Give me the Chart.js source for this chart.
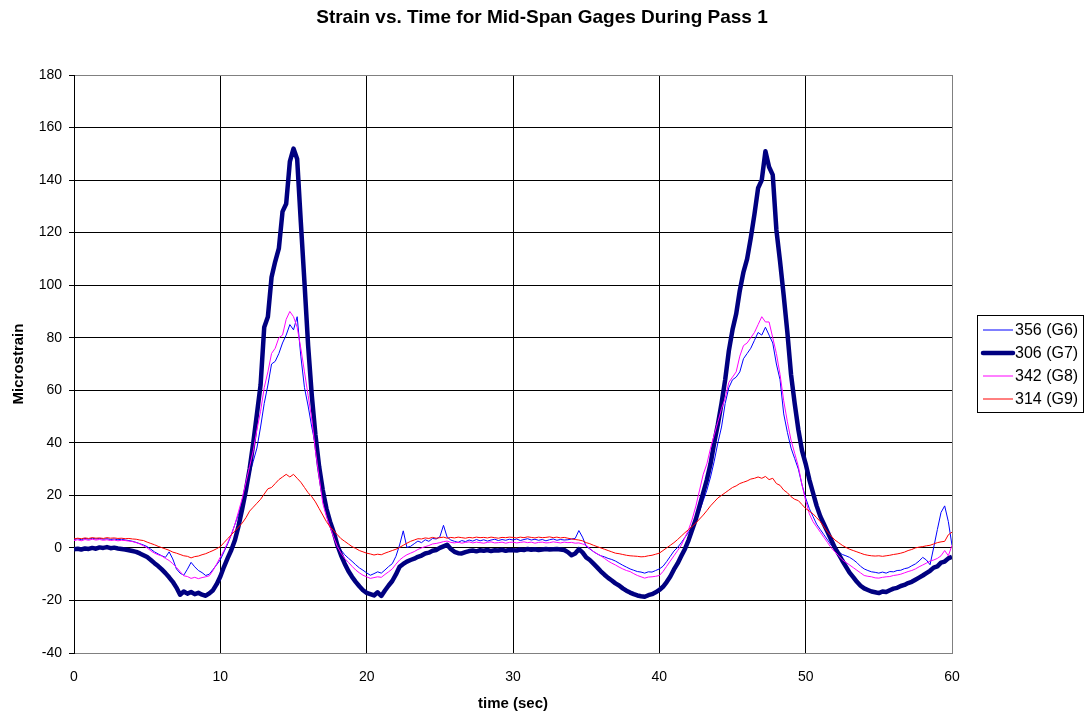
<!DOCTYPE html>
<html>
<head>
<meta charset="utf-8">
<title>Strain vs. Time</title>
<script src="https://cdn.jsdelivr.net/npm/chart.js@4.4.1/dist/chart.umd.min.js"></script>
<style>
  html, body { margin: 0; padding: 0; background: #fff; }
  #wrap { width: 1084px; height: 715px; position: relative; }
</style>
</head>
<body>
<div id="wrap"><canvas id="strainChart"></canvas></div>
<script>
// ===== Dados (amostras a cada 0.25 s, de 0 a 60 s)
const SAMPLE_STEP = 0.25;
const chartTitle = 'Strain vs. Time for Mid-Span Gages During Pass 1';
const xTicks = [0, 10, 20, 30, 40, 50, 60];
const yTicks = [-40, -20, 0, 20, 40, 60, 80, 100, 120, 140, 160, 180];
const seriesNames = ['356 (G6)', '306 (G7)', '342 (G8)', '314 (G9)'];

const g6 = [
  3.2,3.5,3.1,3.6,3.3,3.7,3.4,3.6,3.3,3.5,3.2,3.4,3.1,3.3,3,2.8,2.5,2.1,1.6,1.1,
  0.5,-0.5,-1.5,-2.3,-3,-3.6,-1.5,-4.2,-8,-9.6,-10.4,-8.1,-5.5,-7.2,-8.6,-9.4,-10.5,-10,-8.2,-6.4,
  -4.5,-1.5,1.5,5,9,13,18,23,28,33,38,46,55,62,70,71,74,78,81,85,
  83,88,73,61,54,46,39,29,19,14,9,5,1.5,-0.8,-2.6,-3.9,-5.1,-6.4,-7.6,-8.5,
  -9.5,-10.4,-9.8,-9.1,-9.6,-8.4,-7.1,-6,-3.2,1.1,6.5,0.2,0.6,1.6,2.6,2,3.1,2.5,3.6,3.4,
  4.2,8.6,4.1,3,2.5,2.1,2.8,2.4,3,2.6,3.2,2.7,3.1,2.6,3,3.3,2.8,3.2,2.9,3.3,
  3,3.4,2.8,3.2,3.5,3,3.3,2.9,3.2,2.7,3.1,3.4,2.9,3.2,3,3.1,3.4,3.6,6.6,4.1,
  0.6,-0.4,-1.4,-2.3,-3,-3.4,-4,-4.4,-5,-5.8,-6.6,-7.3,-8,-8.5,-9,-9.2,-9.6,-9.1,-9.2,-8.6,
  -8,-7,-5.2,-3.2,-1.2,0.2,2,4,6,8.5,11,14,18,22,27,33,40,46,55,61,
  64,65,67,72,74,76,79,82,81,84,81,78,70,64,51,44,38,34,30,24,
  19,15,12,9,7,5,3,1,-0.5,-1.5,-2.5,-3,-3.6,-4.5,-5.6,-7,-8,-8.6,-9.1,-9.3,
  -9.6,-9.2,-9.6,-9,-9.1,-8.6,-8.5,-7.9,-7.6,-6.8,-6.1,-5,-3.6,-4.6,-6.4,0.2,7,13.5,16,10,
  1
];

const g7 = [
  -0.5,-0.3,-0.6,-0.2,-0.4,0,-0.3,0.2,0,0.3,-0.1,0.1,-0.2,-0.4,-0.6,-0.9,-1.2,-1.5,-2.1,-2.8,
  -3.5,-4.6,-5.8,-6.9,-8.2,-9.6,-11.2,-12.9,-15.1,-17.8,-16.6,-17.4,-16.8,-17.6,-17.1,-17.8,-18.2,-17.3,-16.1,-13.8,
  -10.9,-7.2,-3.9,-0.8,3,8.5,15,22,30,40,51,62,84,88,103,109,114,128,131,147,
  152,148,124,101,77,58,43,31,22,15,10,6,1,-2.8,-6,-8.8,-11,-12.9,-14.6,-16.1,
  -17.1,-17.6,-18.1,-16.9,-18.3,-16.2,-14.3,-12.6,-10.1,-7.2,-6.1,-5.2,-4.6,-4.1,-3.4,-2.9,-2.1,-1.8,-1.1,-0.8,
  0,0.6,1.2,-0.4,-1.5,-2,-2.1,-1.6,-1.2,-1,-1.3,-0.9,-1.1,-0.8,-1.2,-0.9,-1,-0.7,-1.1,-0.8,
  -0.9,-1,-0.6,-0.8,-0.4,-0.7,-0.5,-0.8,-0.6,-0.4,-0.6,-0.5,-0.4,-0.6,-0.8,-1.6,-2.8,-2.1,-0.5,-1.7,
  -3.6,-4.6,-6,-7.4,-8.9,-10.2,-11.4,-12.4,-13.5,-14.3,-15.4,-16.3,-17,-17.6,-18.1,-18.4,-18.6,-18,-17.6,-16.9,
  -16,-14.8,-13,-10.9,-8.2,-5.9,-3.1,-0.4,3,7,11,16,21,26,32,40,47,55,64,75,
  83,89,98,105,110,118,127,137,140,151,145,142,121,109,96,82,66,55,45,37,
  32,26,21,16,12,9,6,3,0,-2.3,-4.8,-7.1,-9.4,-11.1,-12.9,-14.4,-15.4,-16,-16.6,-16.9,
  -17.2,-16.6,-16.8,-16.1,-15.5,-15.2,-14.5,-14.1,-13.4,-12.9,-12.1,-11.3,-10.5,-9.6,-8.7,-7.5,-7,-5.6,-5.2,-4,
  -3.4
];

const g8 = [
  2.8,3.1,2.7,3.2,2.9,3.3,3,3.2,2.9,3.1,2.8,3,2.7,2.9,2.8,2.6,2.4,2,1.5,0.8,
  0,-1.1,-2,-2.6,-3.1,-4,-4.8,-6,-7.4,-9,-10.6,-10.9,-11.6,-11.2,-11.7,-11.3,-11,-10.6,-8.6,-6.1,
  -3.5,-1,2,5,9,14,19,25,31,37,45,52,61,67,74,76,80,81,87,90,
  88,84,76,67,58,49,37,27,17,12,8,4,0.5,-2,-4,-5.5,-7,-8.4,-9.5,-10.4,
  -11,-11.6,-11.3,-11,-11.2,-10.1,-9.1,-8,-6.2,-4.6,-3.5,-2.6,-2,-1.4,-0.6,0,0.5,0.9,1.5,1.7,
  2,2.4,2.6,2.1,1.9,2.2,1.8,2.1,2.3,1.9,2.2,2,1.8,2.1,2.3,1.9,2,2.2,1.8,2.1,
  2.2,1.9,2.1,2.3,2,2.2,1.8,2.1,2.2,1.9,2,2.3,2.1,1.9,2.2,2,2.1,1.8,1.9,1.5,
  1,-0.2,-1.4,-2.2,-3,-4,-5,-5.8,-6.5,-7.3,-8,-8.6,-9,-9.8,-10.5,-11,-11.5,-11.1,-11,-10.8,
  -10.5,-9,-7,-5,-3,-1,1,4,7,11,16,22,28,32,38,43,48,53,57,63,
  65,67,73,77,78,80,82,85,88,86,86,80,74,66,56,48,41,36,31,24,
  18,13,10,8,6,4,2,0,-1.5,-3,-4.5,-5.5,-6.5,-7.5,-8.5,-9.5,-10.5,-10.8,-11,-11.4,
  -11.5,-11.2,-11,-10.9,-10.5,-10.3,-10,-9.5,-9,-8.6,-8,-7.2,-6.5,-5.8,-5,-4.6,-4,-3,-1,-3,
  1
];

const g9 = [
  3.4,3.7,3.5,3.8,3.6,3.9,3.7,3.8,3.6,3.9,3.7,3.8,3.6,3.7,3.5,3.6,3.4,3.3,3,2.8,
  2.2,1.7,1.2,0.6,0.1,-0.4,-0.9,-1.6,-2,-2.5,-3,-3.2,-3.8,-3.3,-3.1,-2.6,-2.2,-1.6,-1,-0.3,
  0.5,2,3.5,5,6.5,8,9.5,11.5,14,15.5,17,18.5,20.5,22.5,23,24.5,26,27,28,27,
  28,26.5,25,23,21,19.5,17.5,15,12.5,10,8,6.5,5,3.5,2.5,1.5,0.5,-0.2,-1,-1.5,
  -2,-2.3,-2.7,-2.4,-2.6,-2,-1.5,-1,-0.5,0.2,1,1.8,2.5,3,3.5,3.4,3.8,3.6,4,3.7,
  3.9,4.1,3.7,4,3.8,4.1,3.9,3.7,4,3.8,4.1,3.9,4,3.8,4.1,3.9,3.7,4,3.9,4.1,
  4,3.8,4.1,3.9,4.2,4,3.8,4.1,3.9,4,4.2,3.9,4.1,3.8,4,3.7,3.4,3.2,3,2.7,
  2,1.6,1,0.5,0,-0.5,-1,-1.5,-2,-2.2,-2.5,-2.8,-3,-3.1,-3.2,-3.4,-3.3,-3,-2.8,-2.4,
  -2,-1,0,1,2,3.2,4.5,5.8,7,8.2,9.5,11,12.5,14.2,16,17.5,19,20,21,22,
  23,23.6,24.5,25,25.5,26.2,26.5,27,26.5,27.2,26,26.5,24.5,23.8,22,21,19.5,18.5,18,16.5,
  15,14,13,11.5,10,8,6,4.5,3,2,1,0.2,-0.5,-1,-1.5,-2,-2.5,-2.8,-3,-3.1,
  -3,-3.2,-3,-2.8,-2.5,-2.3,-2,-1.6,-1,-0.6,0,0.3,0.5,0.8,1,1.5,2,2.3,2.5,5,
  6
];

// ===== Monta pontos {x, y}
const toPoints = (arr) => arr.map((v, i) => ({ x: i * SAMPLE_STEP, y: v }));

const FONT = "'Liberation Sans', Arial, Helvetica, sans-serif";

// título centrado na página + legenda com moldura à direita
const frameText = {
  id: 'frameText',
  afterDraw(chart) {
    const { ctx, chartArea, width } = chart;
    ctx.save();
    ctx.fillStyle = '#000';
    ctx.font = `bold 19px ${FONT}`;
    ctx.textAlign = 'center';
    ctx.textBaseline = 'middle';
    ctx.fillText(chartTitle, width / 2, 18);

    // legenda
    const x = chartArea.right + 25, y = 315, w = 106, h = 97;
    ctx.fillStyle = '#fff';
    ctx.fillRect(x, y, w, h);
    ctx.strokeStyle = '#000';
    ctx.lineWidth = 1;
    ctx.strokeRect(x + 0.5, y + 0.5, w, h);
    ctx.font = `16px ${FONT}`;
    ctx.textAlign = 'left';
    ctx.fillStyle = '#000';
    chart.data.datasets.forEach((ds, i) => {
      const cy = y + 15 + i * 23;
      ctx.beginPath();
      ctx.strokeStyle = ds.borderColor;
      ctx.lineWidth = ds.borderWidth;
      ctx.lineCap = ds.borderWidth > 2 ? 'round' : 'butt';
      ctx.moveTo(x + 6, cy);
      ctx.lineTo(x + 36, cy);
      ctx.stroke();
      ctx.fillText(ds.label, x + 38, cy + 1);
    });
    ctx.restore();
  }
};

new Chart(document.getElementById('strainChart'), {
  type: 'line',
  data: {
    datasets: [
      { label: seriesNames[0], data: toPoints(g6), borderColor: '#0000ff', borderWidth: 1, order: 3 },
      { label: seriesNames[1], data: toPoints(g7), borderColor: '#000080', borderWidth: 4.5, order: 2 },
      { label: seriesNames[2], data: toPoints(g8), borderColor: '#ff00ff', borderWidth: 1, order: 1 },
      { label: seriesNames[3], data: toPoints(g9), borderColor: '#ff0000', borderWidth: 1, order: 0 }
    ]
  },
  options: {
    responsive: true,
    maintainAspectRatio: false,
    animation: false,
    elements: { point: { radius: 0 }, line: { tension: 0, borderJoinStyle: 'round' } },
    layout: { padding: { top: 75, right: 132, bottom: 0, left: 0 } },
    plugins: {
      legend: { display: false },
      tooltip: { enabled: false },
      title: { display: false }
    },
    scales: {
      x: {
        type: 'linear',
        min: 0, max: 60,
        afterBuildTicks: (s) => { s.ticks = xTicks.map(v => ({ value: v })); },
        afterFit: (s) => { s.height = 62; },
        grid: {
          color: (c) => (c.tick && c.tick.value === 60 ? '#808080' : '#000'),
          drawTicks: false
        },
        border: { color: '#808080' },
        ticks: { color: '#000', padding: 16, font: { family: FONT, size: 14 }, maxRotation: 0 },
        title: {
          display: true, text: 'time (sec)', color: '#000',
          font: { family: FONT, size: 15, weight: 'bold' },
          padding: { top: 2, bottom: 2 }
        }
      },
      y: {
        min: -40, max: 180,
        afterBuildTicks: (s) => { s.ticks = yTicks.map(v => ({ value: v })); },
        afterFit: (s) => { s.width = 74; },
        grid: {
          color: (c) => (c.tick && (c.tick.value === 180 || c.tick.value === -40) ? '#808080' : '#000'),
          tickColor: '#000',
          tickLength: 5
        },
        border: { color: '#000' },
        ticks: { color: '#000', padding: 7, font: { family: FONT, size: 14 } },
        title: {
          display: true, text: 'Microstrain', color: '#000',
          font: { family: FONT, size: 15, weight: 'bold' },
          padding: { top: 10, bottom: 0 }
        }
      }
    }
  },
  plugins: [frameText]
});
</script>
</body>
</html>
